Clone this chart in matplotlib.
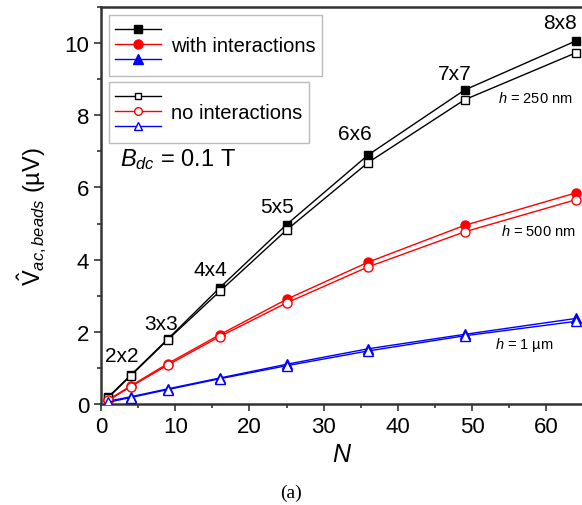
import matplotlib
matplotlib.use("Agg")
import matplotlib.pyplot as plt
from matplotlib.lines import Line2D
from matplotlib.ticker import MultipleLocator

plt.rcParams['font.family'] = ['Liberation Sans', 'DejaVu Sans']
plt.rcParams['mathtext.fontset'] = 'custom'
plt.rcParams['mathtext.rm'] = 'Liberation Sans'
plt.rcParams['mathtext.it'] = 'Liberation Sans:italic'
plt.rcParams['mathtext.bf'] = 'Liberation Sans:bold'

# ---- data ----
N = [1, 4, 9, 16, 25, 36, 49, 64]
black_with = [0.20, 0.80, 1.80, 3.22, 4.97, 6.90, 8.70, 10.06]
black_without = [0.18, 0.78, 1.78, 3.12, 4.82, 6.69, 8.43, 9.73]
red_with = [0.12, 0.50, 1.12, 1.92, 2.90, 3.93, 4.95, 5.85]
red_without = [0.10, 0.48, 1.08, 1.87, 2.80, 3.80, 4.77, 5.66]
blue_with = [0.08, 0.20, 0.42, 0.72, 1.10, 1.53, 1.93, 2.37]
blue_without = [0.05, 0.18, 0.40, 0.70, 1.06, 1.47, 1.89, 2.29]

size_labels = ['2x2', '3x3', '4x4', '5x5', '6x6', '7x7', '8x8']
size_label_x = [2.8, 8.1, 14.7, 23.7, 34.2, 47.7, 61.9]
size_label_y = [1.33, 2.22, 3.72, 5.47, 7.50, 9.17, 10.56]

h_labels = ['$h$ = 250 nm', '$h$ = 500 nm', '$h$ = 1 \u00b5m']
h_label_x = [58.5, 58.9, 57.0]
h_label_y = [8.5, 4.8, 1.67]

fig = plt.figure(figsize=(5.82, 5.06), dpi=100)
ax = fig.add_axes([101/582, 101/506, 482.3/582, 397/506])

lw = 1.0
ms = 6.0
ax.plot(N, black_with, '-', color='black', lw=lw, marker='s', ms=ms, mfc='black', mec='black', zorder=3)
ax.plot(N, red_with, '-', color='red', lw=lw, marker='o', ms=ms+0.5, mfc='red', mec='red', zorder=3)
ax.plot(N, blue_with, '-', color='blue', lw=lw, marker='^', ms=ms+1, mfc='blue', mec='blue', zorder=3)
ax.plot(N, black_without, '-', color='black', lw=lw, marker='s', ms=ms, mfc='white', mec='black', mew=1.0, zorder=4)
ax.plot(N, red_without, '-', color='red', lw=lw, marker='o', ms=ms+0.5, mfc='white', mec='red', mew=1.0, zorder=4)
ax.plot(N, blue_without, '-', color='blue', lw=lw, marker='^', ms=ms+1, mfc='white', mec='blue', mew=1.0, zorder=4)

for t, x, y in zip(size_labels, size_label_x, size_label_y):
    ax.text(x, y, t, fontsize=15, ha='center', va='center', color='black', zorder=5)
for t, x, y in zip(h_labels, h_label_x, h_label_y):
    ax.text(x, y, t, fontsize=10.5, ha='center', va='center', color='black', zorder=5)

ax.text(2.6, 6.8, r'$B_{dc}$ = 0.1 T', fontsize=17, ha='left', va='center')

ax.set_xlim(0, 65)
ax.set_ylim(0, 11)
ax.xaxis.set_major_locator(MultipleLocator(10))
ax.xaxis.set_minor_locator(MultipleLocator(5))
ax.yaxis.set_major_locator(MultipleLocator(2))
ax.yaxis.set_minor_locator(MultipleLocator(1))
ax.tick_params(which='both', direction='out', top=False, right=False, labelsize=16, width=1.2, color='#333333')
ax.tick_params(which='major', length=5)
ax.tick_params(which='minor', length=3)
for s in ax.spines.values():
    s.set_linewidth(1.8)
    s.set_color('#333333')

ax.set_xlabel('$N$', fontsize=18, labelpad=4)
ax.set_ylabel('$\\hat{\\mathrm{V}}_{ac,beads}$ (\u00b5V)', fontsize=17)
ax.yaxis.set_label_coords(-0.108, 0.475)

leg_kw = dict(fontsize=14.5, frameon=True, fancybox=False, framealpha=1, edgecolor='#bbbbbb',
              handlelength=2.3, handletextpad=0.5, labelspacing=-0.2, borderpad=0.3,
              borderaxespad=0, loc='upper left')
h1 = [Line2D([], [], color='black', lw=1, marker='s', ms=ms, mfc='black', mec='black'),
      Line2D([], [], color='red', lw=1, marker='o', ms=ms+0.5, mfc='red', mec='red'),
      Line2D([], [], color='blue', lw=1, marker='^', ms=ms+1, mfc='blue', mec='blue')]
h2 = [Line2D([], [], color='black', lw=1, marker='s', ms=ms-1, mfc='white', mec='black'),
      Line2D([], [], color='red', lw=1, marker='o', ms=ms-0.5, mfc='white', mec='red'),
      Line2D([], [], color='blue', lw=1, marker='^', ms=ms, mfc='white', mec='blue')]
leg1 = ax.legend(h1, ['', 'with interactions', ''], bbox_to_anchor=(0.0166, 0.980), **leg_kw)
leg1.get_frame().set_linewidth(1.0)
ax.add_artist(leg1)
leg2 = ax.legend(h2, ['', 'no interactions', ''], bbox_to_anchor=(0.0166, 0.811), **leg_kw)
leg2.get_frame().set_linewidth(1.0)

fig.text(291/582, 1 - 493/506, '(a)', fontsize=14, family='Liberation Serif', ha='center', va='center')

fig.savefig('out.png', dpi=100)
